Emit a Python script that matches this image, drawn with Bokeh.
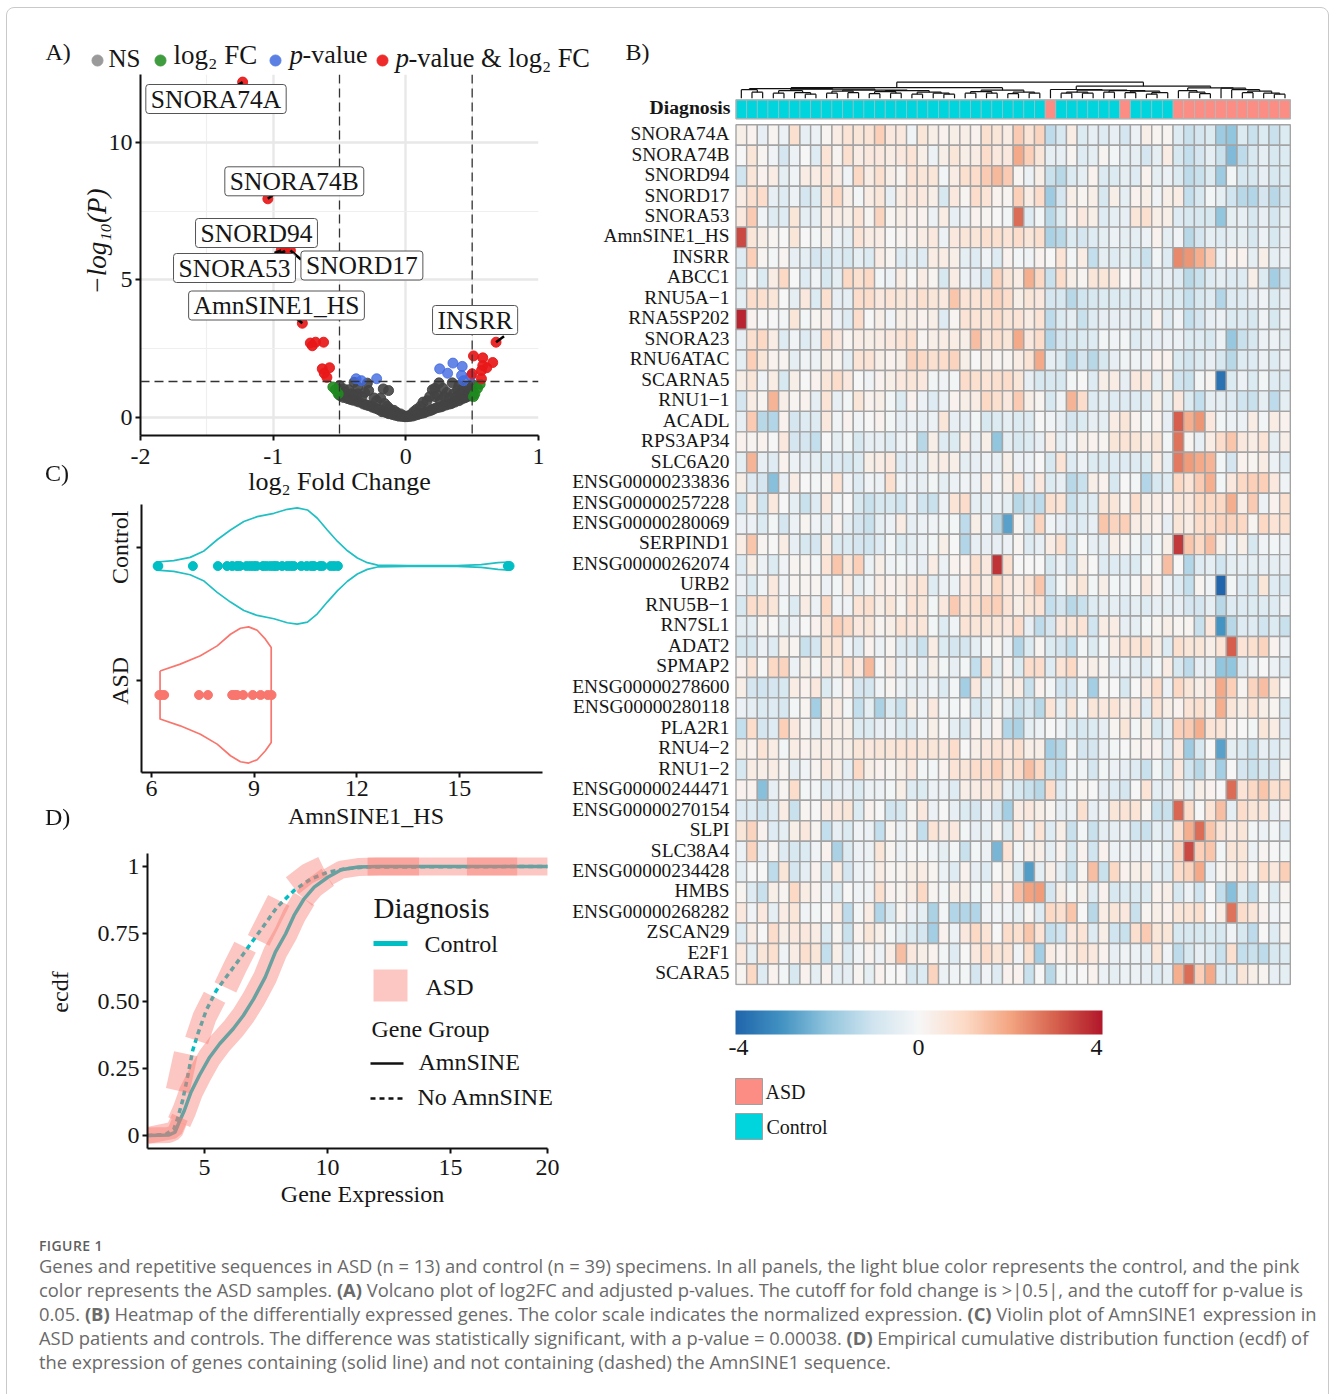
from bokeh.embed import file_html
from bokeh.resources import INLINE
from bokeh.layouts import column, row
from bokeh.models import (ColumnDataSource, ColorBar, Div, FixedTicker, Label, LinearColorMapper, Range1d, Spacer, Span)
from bokeh.palettes import interp_palette
from bokeh.plotting import figure
from bokeh.transform import transform

SERIF = "Liberation Serif"
INK = "#161616"
NB = "\u00a0"

# ---------- Panel A: volcano ----------
ns_x = [-.5,-.5,-.5,-.49,-.47,-.47,-.46,-.44,-.43,-.42,-.41,-.4,-.39,-.39,-.37,-.36,-.36,-.35,-.33,-.32,-.31,-.3,-.29,-.28,-.28,
        -.26,-.25,-.24,-.23,-.22,-.21,-.2,-.19,-.18,-.17,-.17,-.16,-.15,-.14,-.13,-.13,-.12,-.11,-.1,-.09,-.08,-.07,-.06,-.05,-.04,-.03,-.02,-.01,0,
        .01,.02,.03,.04,.05,.06,.07,.08,.09,.1,.11,.12,.13,.14,.15,.16,.17,.18,.19,.2,.2,.21,.22,.22,.23,.24,.25,.25,.26,.27,.28,.28,.29,.3,.31,.32,.33,
        .34,.35,.35,.36,.37,.38,.39,.4,.4,.41,.42,.43,.44,.45,.46,.47,.47,.48,.49,.5,.5,.5]
ns_y = [.8,1.0,1.15,.78,.72,1.03,.9,.68,1.0,.65,.85,.62,.8,1.27,.58,.85,1.1,.55,.75,.48,.9,.45,1.24,.42,.97,
        .4,.36,.7,.33,.6,.29,.28,.7,.2,.22,1.03,.5,.17,.4,.13,.97,.3,.12,.1,.25,.07,.18,.05,.04,.12,.03,.06,.02,.02,
        .02,.05,.03,.1,.04,.2,.07,.28,.1,.12,.4,.14,.55,.16,.2,.6,.22,.75,.25,.28,1.0,.3,.75,1.05,.34,.8,.36,1.25,.6,.38,.42,1.05,.75,.44,.9,.47,.7,
        .49,.52,1.25,.85,.55,.75,1.0,.6,1.15,.85,.66,1.0,.7,.72,1.1,.76,.95,.9,.78,.8,1.0,1.2]
fc_x = [-.55,-.53,-.51,.56,.54,.52,.51]
fc_y = [1.1,1.0,.85,1.2,1.05,.85,.75]
pv_x = [-.375,-.335,-.22,.255,.315,.355,.425,.42,.435,.49]
pv_y = [1.4,1.33,1.4,1.76,1.6,1.97,1.85,1.52,1.33,1.5]
both_x = [-1.23,-1.04,-.94,-.91,-.87,-.78,-.72,-.705,-.68,-.62,-.575,-.63,-.615,-.595,.51,.58,.655,.61,.58,.57,.5,.57,.68]
both_y = [12.2,7.95,6.07,6.05,6.07,3.42,2.7,2.6,2.73,2.73,1.8,1.76,1.6,1.45,2.23,2.16,1.99,1.8,1.88,1.7,1.58,1.4,2.73]
arrow_x0 = [-1.23,-1.04,-.94,-.91,-.87,-.78,.68]
arrow_y0 = [12.2,7.95,6.07,6.05,6.07,3.42,2.73]
arrow_x1 = [-1.285,-.985,-.99,-.96,-.79,-.83,.74]
arrow_y1 = [12.03,8.15,5.98,5.93,5.74,3.62,2.95]
gene_tags = ["SNORA74A","SNORA74B","SNORD94","SNORA53","SNORD17","AmnSINE1_HS","INSRR"]

# ---------- Panel C: violin ----------
ctrl_vals = [6.18,6.2,7.21,7.94,8.21,8.36,8.5,8.58,8.78,8.89,8.99,9.07,9.26,9.36,9.48,9.58,9.66,9.82,9.97,10.07,10.16,
             10.38,10.54,10.67,10.75,10.93,11.0,11.24,11.34,11.45,16.42,16.47]
asd_vals = [6.23,6.28,6.37,7.39,7.65,8.36,8.43,8.5,8.68,8.96,9.19,9.4,9.51]
ctrl_curve_x = [6.16,6.65,7.13,7.52,7.92,8.31,8.7,9.09,9.58,9.97,10.26,10.56,10.85,11.14,11.44,11.73,12.02,12.31,12.61,13.49,14.95,15.64,16.13,16.47]
ctrl_curve_w = [.03,.04,.065,.11,.197,.27,.333,.37,.395,.425,.435,.42,.358,.27,.184,.114,.06,.025,.007,.003,.003,.01,.025,.03]
asd_curve_x = [6.25,6.84,7.43,7.92,8.31,8.6,8.84,9.09,9.33,9.5]
asd_curve_w = [.18,.231,.294,.368,.455,.5,.51,.485,.418,.356]
ctrl_row, asd_row = 1.86, 0.894

# ---------- Panel D: ecdf ----------
amn_x = [2.68,3.56,3.8,3.97,4.18,4.45,4.79,5.21,5.62,6.17,6.58,7.0,7.47,7.88,8.3,8.64,9.05,9.46,10.01,10.56,11.25,12.07,18.94]
amn_y = [0,.002,.012,.05,.093,.161,.223,.291,.341,.397,.446,.508,.589,.682,.75,.818,.88,.923,.96,.988,.998,1,1]
noamn_x = [2.68,3.42,3.76,3.9,4.11,4.31,4.52,4.73,5.07,5.48,6.03,6.58,7.27,7.95,8.64,9.33,10.01,10.7,11.52,18.94]
noamn_y = [0,.004,.025,.062,.13,.217,.316,.378,.465,.539,.607,.675,.762,.849,.911,.954,.979,.991,.998,1]
asd_noamn_xs = [[2.68,3.76,4.0],[3.91,4.24],[4.68,5.0,5.41],[5.85,6.24,6.65],[7.2,7.61,8.02],[8.57,9.19,9.81],[11.63,13.72],[15.67,17.71]]
asd_noamn_ys = [[0,.02,.068],[.167,.304],[.353,.44,.514],[.551,.626,.7],[.725,.8,.874],[.929,.973,1.0],[1,1],[1,1]]
asd_noamn_w = [17,24,24,24,24,21,18,18]

# ---------- Panel B: heatmap (values x10) ----------
genes = ["SNORA74A","SNORA74B","SNORD94","SNORD17","SNORA53","AmnSINE1_HS","INSRR","ABCC1","RNU5A\u22121","RNA5SP202","SNORA23",
         "RNU6ATAC","SCARNA5","RNU1\u22121","ACADL","RPS3AP34","SLC6A20","ENSG00000233836","ENSG00000257228","ENSG00000280069",
         "SERPIND1","ENSG00000262074","URB2","RNU5B\u22121","RN7SL1","ADAT2","SPMAP2","ENSG00000278600","ENSG00000280118","PLA2R1",
         "RNU4\u22122","RNU1\u22122","ENSG00000244471","ENSG00000270154","SLPI","SLC38A4","ENSG00000234428","HMBS","ENSG00000268282",
         "ZSCAN29","E2F1","SCARA5"]
asd_columns = [29,36,41,42,43,44,45,46,47,48,49,50,51]
heat_rows = [
[3,2,-4,1,-3,8,-4,-3,1,4,7,6,7,12,5,5,-2,6,3,2,3,3,2,8,6,4,13,7,11,-13,-8,4,-7,-4,-6,-4,-9,-3,3,1,1,-6,-11,-9,-7,-18,-20,-7,-11,-7,-11,-7],
[0,6,1,-2,-9,-3,0,-6,7,1,8,4,5,5,4,5,7,3,-3,3,6,3,4,9,5,5,19,12,6,-5,-4,1,-6,-5,1,-1,-5,-5,-9,-5,4,-8,-12,-9,-5,-11,-22,-13,-8,-5,-8,-7],
[-10,6,2,4,-5,-2,4,4,7,4,-2,10,4,8,3,1,7,6,6,-1,4,8,9,13,16,13,1,-3,3,-11,-14,-7,-5,2,-7,-7,-5,-6,2,-5,-3,-7,-13,-11,-7,-18,-1,-8,-8,-4,-8,-7],
[4,8,9,-4,-6,-3,-9,-7,6,10,3,-1,4,6,-4,4,5,5,3,-8,5,1,9,7,2,1,12,4,9,-18,-9,3,1,3,-8,3,-5,2,3,-2,3,4,-12,-8,-1,-5,-10,-14,-15,-9,-14,-9],
[5,13,-2,-6,-6,6,-5,-5,4,4,3,7,1,11,1,3,2,2,-3,4,-4,-3,2,1,0,-1,28,-6,-1,-14,-7,2,5,3,-6,-5,-4,6,8,3,3,-6,-8,-8,-8,-20,-5,-4,-8,-4,-9,-5],
[33,6,3,1,0,6,0,-1,3,-3,-5,7,4,4,0,1,2,4,5,-3,5,6,6,8,8,7,9,6,8,-16,-14,-7,-9,-6,-5,-3,-5,-5,-3,2,-5,-2,-14,-9,-5,-6,-5,-5,-8,-3,-8,-4],
[-6,12,1,-1,1,-4,-5,-9,-8,-6,-8,-5,-7,4,1,-6,-5,-6,4,4,3,-5,-6,-2,-6,2,-1,-2,2,0,7,-1,4,-12,-5,-6,-5,-7,-11,-1,-6,24,22,18,13,-3,2,2,-5,3,-5,-3],
[-8,0,-7,4,10,0,-6,-2,-8,-5,10,8,10,-1,-3,4,0,4,1,-8,4,-3,-4,-9,11,6,4,18,10,-11,9,3,1,6,6,5,0,2,-6,-5,-4,-6,-14,-11,-6,-5,-6,-6,3,-7,-17,-10],
[-5,9,8,6,0,-5,5,-7,8,-4,-5,9,9,5,7,6,5,8,6,5,14,7,7,8,11,9,3,6,5,-9,-8,-14,-10,-8,-7,-7,-7,-6,-5,-5,-7,-7,-12,-8,-6,-15,-6,-6,-4,-2,-7,-4],
[38,2,0,0,-1,6,-1,1,4,-3,-6,9,0,3,-2,3,3,2,3,-6,1,7,7,6,9,6,7,4,7,-13,-7,-5,-11,-6,-4,-4,-4,-5,-6,2,-6,-2,-12,-9,-4,-3,-7,-6,-8,-2,-8,-3],
[-4,8,10,4,-6,-2,-6,-4,9,5,1,4,3,4,5,7,8,1,3,4,4,3,15,6,8,6,19,5,9,-15,-9,-8,-7,-6,-1,-2,-1,-6,-4,-4,-3,-3,-7,-6,-8,-3,-19,-11,-8,-3,-3,-5],
[-5,12,6,2,1,-5,-2,-3,3,1,-5,7,7,3,2,3,11,10,8,9,11,3,0,3,1,1,4,7,19,-5,-7,-14,-9,-14,-8,-4,-2,-2,-3,2,2,-7,-10,-7,-4,-8,-14,-6,-6,-3,-6,-3],
[3,6,-2,4,-8,3,0,2,6,9,5,0,-2,2,3,5,6,5,-1,-2,-1,9,8,7,8,9,6,-4,-8,-8,-8,-1,0,-6,3,4,-4,5,5,-5,3,-10,-11,-1,1,-37,-7,-3,-7,-1,-6,-6],
[-9,4,1,17,3,1,2,-5,7,-4,-1,6,2,3,-1,-7,2,-3,-6,-3,2,3,4,10,8,5,13,3,1,-8,-2,17,9,-6,-5,-6,-6,-6,-6,3,-5,5,-7,-12,-5,-5,-6,-10,-11,-5,-13,-5],
[-4,13,-14,-15,2,-9,-6,-6,5,-2,2,-2,0,2,-1,-4,-3,-4,-3,6,-4,-4,-1,-8,-7,-5,-7,-6,0,-2,-4,-9,-7,-4,-5,4,6,2,-1,2,-4,30,18,22,5,-1,-3,-3,4,-1,4,2],
[2,1,2,0,5,-9,-9,-12,0,-5,-1,-8,-4,-4,-6,-3,-1,-14,3,-6,-7,4,-4,3,-20,-5,-8,-7,-4,4,-5,-2,3,2,1,6,7,6,4,6,-1,27,1,-4,4,9,14,5,4,7,-5,3],
[-5,17,-4,-6,2,-3,-4,-5,-7,-6,-8,-7,3,4,5,-6,-4,-5,3,4,3,-5,-4,-3,-4,3,-3,-3,0,-8,7,-6,-3,-7,-7,-6,-6,-6,-7,4,-5,26,21,19,17,-1,-9,2,1,4,-3,-6],
[3,-6,-9,-21,-4,4,0,-1,1,7,-2,-6,-2,-3,8,-2,-3,-4,-1,-5,-3,-2,-3,4,-2,3,7,-4,5,-7,-4,-14,-11,3,2,-8,0,-1,-15,-8,-6,10,7,13,18,-1,5,10,12,12,5,-2],
[-10,4,-10,5,0,-5,-11,-6,5,-2,0,-8,-11,-8,-8,-10,-3,-10,-11,-3,7,9,-5,-5,-3,-5,-14,-11,-13,8,7,-11,-7,-6,6,6,1,9,3,4,2,6,5,10,10,10,18,4,13,-3,2,8],
[-3,-3,-7,-1,-9,-3,1,-2,-5,2,-5,-9,-11,-5,-3,4,-4,-3,-2,-1,-1,-13,3,-2,-14,-27,1,-8,11,-2,-4,-6,-6,-4,14,11,12,4,3,2,-4,6,4,9,9,11,11,10,1,10,7,8],
[4,14,1,0,4,-4,-8,-9,4,-7,-7,-9,-10,-6,-1,-7,-5,-3,-1,3,0,-15,-4,-4,-4,-3,1,-6,-4,4,8,-8,0,-4,-5,3,1,-1,-6,-1,3,35,14,10,15,3,-3,3,-8,-2,-1,-3],
[-6,3,-3,-7,-2,1,1,-1,7,14,6,12,-3,3,-2,-1,-2,-4,4,-3,2,2,8,5,36,8,0,0,0,-8,-3,-9,3,0,-6,-6,-6,-7,-1,1,15,0,-15,-6,-5,-10,-5,-4,-5,-4,-5,-4],
[-3,-7,-2,5,-2,1,1,1,-3,-1,4,-5,-2,4,2,3,5,7,-6,-3,-3,5,7,4,10,5,4,7,14,-9,-1,3,6,-1,3,-1,-3,0,5,2,-3,-6,-12,1,-2,-40,-1,-6,-8,6,-6,-8],
[-8,9,8,6,-1,-7,4,-3,10,-2,-2,7,8,3,6,1,7,6,-1,5,13,7,8,11,12,7,3,6,7,-12,-9,-14,-11,-6,-5,-5,-6,-5,-6,-4,-5,-4,-9,-9,-5,-14,-6,-6,-7,-6,-6,-3],
[-5,-5,1,0,-5,-3,0,2,6,12,10,5,6,1,3,7,5,6,-1,-6,-2,7,6,6,6,5,9,-4,-13,-9,5,6,7,-10,4,4,-4,-5,-1,1,3,1,1,-11,5,-30,-14,-6,-6,-10,-7,-11],
[-8,-8,-3,-6,3,1,-11,-9,6,7,-2,-6,2,-3,1,-6,-6,-11,4,-7,-9,-9,-5,-1,1,-3,-15,-7,1,-7,-9,-12,-1,-7,-1,4,7,7,8,3,-6,8,6,6,3,7,30,7,8,11,2,-3],
[2,7,0,10,11,-3,3,-1,5,3,9,5,16,0,4,-4,1,-4,3,-1,-4,-1,-12,8,-5,2,-7,9,9,-6,7,10,2,3,1,-4,-3,-5,-6,-1,4,-8,-13,-4,-5,-20,-20,-6,-3,0,-3,-6],
[3,-9,-10,-9,-8,4,2,5,-7,-2,2,-9,-9,-2,1,-3,-5,-4,-2,-7,-1,-17,5,-5,-3,3,4,-11,2,-1,-10,-9,-1,-17,0,0,-8,0,4,9,-3,10,6,3,5,19,12,1,11,15,6,0],
[-3,-5,-7,-6,-8,-1,1,-17,3,4,-1,-12,-5,-16,-7,-11,3,-2,5,-1,-1,0,-8,-6,1,-5,-11,-8,-14,7,-5,6,-1,6,5,7,3,5,-6,7,3,2,7,8,3,18,6,3,7,3,1,-7],
[-12,9,-9,-6,12,5,1,-5,4,3,3,-7,-7,-4,-3,-7,-6,-2,3,0,-5,-8,2,-3,2,-15,-16,-5,-3,0,-2,-7,-8,-7,-4,1,6,-1,3,-8,-5,12,13,18,7,7,2,0,-1,6,4,-6],
[3,2,7,4,-1,4,2,3,4,3,3,6,5,6,6,7,7,6,6,5,9,0,3,5,7,5,8,3,3,-17,-14,0,-9,-9,-3,-1,0,1,2,2,-6,5,-18,-8,0,-27,-5,-7,-11,-4,-6,-5],
[-8,4,3,4,1,-5,-2,1,5,3,-5,10,3,2,1,3,5,-1,-1,2,7,6,9,9,12,6,9,15,10,-11,-12,-1,-2,-9,-1,-3,-4,-6,-11,-1,-8,5,-10,-14,-5,-17,0,-9,-11,-8,-9,1],
[2,2,-21,-4,1,9,-1,-1,-6,-4,-4,-7,-3,-3,-1,3,-6,-7,-3,-3,-6,3,4,5,6,-5,-8,-11,-14,9,-6,-1,1,0,-4,-6,-9,0,7,-5,-4,3,-5,3,2,0,28,7,10,14,8,10],
[-6,-6,-10,-6,4,-11,1,0,4,5,6,-7,2,0,-10,-8,1,5,-3,0,-4,-7,-9,-3,-9,-17,4,5,3,1,-4,-3,8,-4,-2,6,7,7,1,-11,-11,29,9,0,7,15,-5,9,6,7,-4,2],
[6,11,2,-6,-5,3,5,1,-12,-4,-7,-2,-3,-12,1,-3,1,-12,7,4,5,-1,-4,-5,1,-7,5,-3,7,-6,3,-11,-1,-11,-5,-5,-3,-10,-11,-5,-6,8,18,28,14,7,4,6,-1,-3,-1,-6],
[-3,11,-4,1,-6,-8,-7,-2,2,-16,-7,-3,-3,6,1,-3,0,-1,-2,-5,-1,-11,-1,-3,-23,7,-1,3,3,-5,2,-8,2,-10,2,-3,-2,-3,-3,-1,-5,11,33,12,14,-1,6,6,-3,1,0,-1],
[-5,0,0,-13,6,-9,-5,2,-8,4,-9,-3,-2,4,1,1,3,4,1,-3,-6,2,-4,-6,0,3,-7,-28,-5,3,-5,-11,1,15,-11,10,2,3,4,-5,-6,9,11,19,-4,1,3,7,1,9,5,12],
[1,-6,-11,3,1,10,4,2,-3,-7,0,-2,-2,8,2,1,4,10,1,-1,3,3,-1,-1,5,2,15,20,21,-9,3,-1,3,-6,2,-8,-7,-7,-7,2,3,-8,-3,-10,0,-12,-21,-7,-13,0,-7,1],
[5,-2,5,-5,4,6,-2,-1,0,4,-13,-1,4,-15,-8,1,-3,-5,-16,-1,-15,-15,-15,-2,-2,-2,-5,1,-6,10,8,14,0,-14,4,6,5,-11,1,3,2,6,7,8,0,4,27,9,6,2,-2,0],
[-6,4,0,9,3,5,5,4,-7,1,-11,2,6,3,-1,-5,-7,-9,-17,2,-3,5,10,7,0,9,8,14,7,-12,-10,5,7,-6,3,-10,-11,8,13,6,6,-8,-8,-8,-7,-8,-2,-8,-13,0,-6,1],
[5,-5,6,8,-2,4,8,6,-12,3,-7,-2,2,-3,4,15,5,3,2,-1,-6,0,5,9,6,7,-2,8,-17,4,2,4,7,5,2,-4,-2,-3,-5,6,-2,-13,-8,-4,-6,-11,8,-12,-11,-13,-8,-7],
[1,10,-6,2,-1,-8,2,-5,2,-5,-5,1,-5,2,0,0,-8,-7,11,-3,-2,-1,-9,-2,-6,2,2,-11,0,-14,-1,-1,0,2,-3,-5,-3,-3,-4,-6,-5,18,28,12,19,-6,-7,6,3,1,-4,-5],
]
heat_ticks = ["-4","0","4"]

# ---------- Dendrogram merges: (height, left, right), leaves are column numbers ----------
dendro_left = (10.5,
    (9.5, (8.5, 0, (6, 1, 2)),
          (9.0, (7.5, (5, 3, 4), (5.5, 5, (4, 6, 7))),
                (8.0, (7, (5, 8, 9), (5.5, 10, 11)), (7.5, (6.5, (4.5, 12, 13), (5, 14, 15)), (6, (4, 16, 17), (5, 18, (4, 19, 20))))))),
    (8.0, (6.5, (5, 21, 22), (5, 23, 24)), (6, (4.5, 25, 26), (5, 27, 28))))
dendro_right = (12,
    (8.7, 29, (8, (6, (5, 30, 31), (5, 32, 33)), (7.5, (6, 34, 35), (7, (5.5, 36, 37), (5.5, (4, 38, 39), 40))))),
    (10.3, (7.5, 41, (6, 42, (4.5, 43, 44))), (10, 45, (8.5, 46, (7, (5.5, 47, 48), (5, 49, (4, 50, 51)))))))
dendro_root = (16, dendro_left, dendro_right)


def base(w, h, l, r, t, b, xr, yr):
    p = figure(width=w, height=h, x_range=Range1d(*xr), y_range=Range1d(*yr), toolbar_location=None,
               output_backend="svg", min_border_left=l, min_border_right=r, min_border_top=t, min_border_bottom=b,
               outline_line_color=None, background_fill_color="white", border_fill_color="white")
    p.grid.visible = False
    return p


def style_axis(ax, size=24, standoff=3):
    ax.axis_line_width = 2
    ax.axis_line_color = "#111111"
    ax.major_tick_in = 0
    ax.major_tick_out = 5
    ax.major_tick_line_width = 2
    ax.major_tick_line_color = "#111111"
    ax.minor_tick_line_color = None
    ax.major_label_text_font = SERIF
    ax.major_label_text_font_size = f"{size}px"
    ax.major_label_text_color = INK
    ax.major_label_standoff = standoff


def title_axis(ax, s, size, standoff, style="normal"):
    ax.axis_label = s
    ax.axis_label_text_font = SERIF
    ax.axis_label_text_font_size = f"{size}px"
    ax.axis_label_text_font_style = style
    ax.axis_label_text_color = INK
    ax.axis_label_standoff = standoff


def text(p, fx, fy, px, py, s, size, align="left", **kw):
    p.add_layout(Label(x=fx(px), y=fy(py), text=s, text_font=SERIF, text_font_size=f"{size}px", text_color=INK,
                       text_align=align, text_baseline="middle", **kw))


# ===== top strip: panel letters and volcano legend (page pixels) =====
strip_fx = lambda v: v
strip_fy = lambda v: v
strip = base(1314, 66, 0, 0, 0, 0, (8, 1322), (74, 8))
strip.axis.visible = False
legend_dot_x = [97, 160, 275, 382]
legend_dot_y = [60, 60, 60, 60]
legend_dot_c = ["#9a9a9a", "#3f9c3f", "#5b80e4", "#ee2a2a"]
strip.scatter(legend_dot_x, legend_dot_y, size=11, color=legend_dot_c)
text(strip, strip_fx, strip_fy, 45, 51, "A)", 24)
text(strip, strip_fx, strip_fy, 625, 51, "B)", 24)
text(strip, strip_fx, strip_fy, 108, 58, "NS", 25)
text(strip, strip_fx, strip_fy, 173, 54, "log\u2082 FC", 27)
text(strip, strip_fx, strip_fy, 289, 54, "p", 27, text_font_style="italic")
text(strip, strip_fx, strip_fy, 302, 54, "-value", 26)
text(strip, strip_fx, strip_fy, 395, 57, "p", 27, text_font_style="italic")
text(strip, strip_fx, strip_fy, 408, 57, "-value & log\u2082 FC", 26.4)

# ===== volcano =====
vx = lambda px: (px - 140) / 132.67 - 2
vy = lambda py: (416.7 - py) / 27.47
volcano = base(552, 429, 132, 22, 0, 68, (-2, 1), (vy(435), vy(74)))
style_axis(volcano.xaxis[0], standoff=8)
style_axis(volcano.yaxis[0])
title_axis(volcano.xaxis[0], "log\u2082 Fold Change", 26, 0)
title_axis(volcano.yaxis[0], NB * 4 + "\u2212log\u2081\u2080(P)", 27, -6, "italic")
volcano.xaxis.ticker = FixedTicker(ticks=[-2, -1, 0, 1], minor_ticks=[-1.5, -.5, .5])
volcano.yaxis.ticker = FixedTicker(ticks=[0, 5, 10], minor_ticks=[2.5, 7.5])
volcano.xaxis.major_label_overrides = {-2: "-2", -1: "-1", 0: "0", 1: "1"}
volcano.xgrid.ticker = FixedTicker(ticks=[-2, -1, 0, 1], minor_ticks=[-1.5, -.5, .5])
volcano.ygrid.ticker = FixedTicker(ticks=[0, 5, 10], minor_ticks=[2.5, 7.5])
volcano.grid.visible = True
volcano.grid.grid_line_color = "#e8e8e8"
volcano.grid.grid_line_width = 2.4
volcano.grid.minor_grid_line_color = "#efefef"
volcano.grid.minor_grid_line_width = 1.2
volcano.scatter(ns_x, ns_y, size=10, color="#444444", alpha=.9)
volcano.scatter(fc_x, fc_y, size=10, color="#1e8a1e", alpha=.9)
volcano.scatter(pv_x, pv_y, size=10, color="#4169e1", alpha=.8)
volcano.scatter(both_x, both_y, size=10, color="#e81818", alpha=.92)
volcano.segment(arrow_x0, arrow_y0, arrow_x1, arrow_y1, line_color="black", line_width=2.6)
for loc, dim in [(-.5, "height"), (.5, "height"), (1.3, "width")]:
    volcano.add_layout(Span(location=loc, dimension=dim, line_color="#333333", line_width=1.3, line_dash="9 5"))
tag_px = [215.5, 293.8, 256, 234, 361.4, 276, 474.6]
tag_py = [98.5, 180.8, 232.5, 267.5, 265, 305, 319.5]
for name, tx_, ty_ in zip(gene_tags, tag_px, tag_py):
    volcano.add_layout(Label(x=vx(tx_), y=vy(ty_), text=name, text_font=SERIF, text_font_size="25.5px", text_color=INK,
                             text_align="center", text_baseline="middle", background_fill_color="white",
                             border_line_color="#555555", border_line_width=1, padding=(5, 0), border_radius=3))

# ===== violin =====
cx = lambda px: 6 + (px - 151) / 34.2
cy = lambda py: 2 + (546 - py) / 134
violin = base(551, 341, 132, 18, 1, 72, (cx(141), cx(542)), (cy(772), cy(503)))
style_axis(violin.xaxis[0])
style_axis(violin.yaxis[0])
title_axis(violin.xaxis[0], NB * 8 + "AmnSINE1_HS", 24, 4)
violin.xaxis.ticker = FixedTicker(ticks=[6, 9, 12, 15])
violin.yaxis.ticker = FixedTicker(ticks=[1, 2])
violin.yaxis.major_label_overrides = {1: "ASD", 2: "Control"}
violin.yaxis.major_label_orientation = "vertical"
for xs, ws, mid, col in [(ctrl_curve_x, ctrl_curve_w, ctrl_row, "#1fbfc4"), (asd_curve_x, asd_curve_w, asd_row, "#f8766d")]:
    outline_x = xs + xs[::-1] + xs[:1]
    outline_y = [mid + w for w in ws] + [mid - w for w in ws[::-1]] + [mid + ws[0]]
    violin.line(outline_x, outline_y, line_color=col, line_width=1.7, line_join="round")
violin.scatter(ctrl_vals, [ctrl_row] * len(ctrl_vals), size=9, color="#00bfc4")
violin.scatter(asd_vals, [asd_row] * len(asd_vals), size=9, color="#f8766d")

# ===== ecdf =====
dx = lambda px: 5 + (px - 204) / 24.6
dy = lambda py: (1135 - py) / 269
x_end = 18.94
ecdf = base(545, 394, 132, 1, 9, 90, (dx(147), dx(559)), (dy(1148), dy(853)))
style_axis(ecdf.xaxis[0], standoff=6)
style_axis(ecdf.yaxis[0])
title_axis(ecdf.xaxis[0], NB * 3 + "Gene Expression", 24, 3)
title_axis(ecdf.yaxis[0], NB * 3 + "ecdf", 24, 22)
ecdf.xaxis.bounds = (dx(147), x_end)
ecdf.xaxis.ticker = FixedTicker(ticks=[5, 10, 15, x_end])
ecdf.xaxis.major_label_overrides = {5: "5", 10: "10", 15: "15", x_end: "20"}
ecdf.yaxis.ticker = FixedTicker(ticks=[0, .25, .5, .75, 1])
ecdf.yaxis.major_label_overrides = {0: "0", .25: "0.25", .5: "0.50", .75: "0.75", 1: "1"}
ecdf.line(amn_x, amn_y, line_color="#00bfc4", line_width=3.5)
ecdf.line(noamn_x, noamn_y, line_color="#00bfc4", line_width=3.5, line_dash="5 4")
for a, b, w in [(0, 4, 16), (3, 17, 24), (16, 19, 21), (18, 23, 18)]:
    ecdf.line(amn_x[a:b], amn_y[a:b], line_color="#f8766d", line_alpha=.42, line_width=w)
ecdf.multi_line(xs="xs", ys="ys", line_width="w", line_color="#f8766d", line_alpha=.42,
                source=ColumnDataSource(dict(xs=asd_noamn_xs, ys=asd_noamn_ys, w=asd_noamn_w)))
text(ecdf, dx, dy, 373, 907, "Diagnosis", 29)
text(ecdf, dx, dy, 424, 943, "Control", 24)
text(ecdf, dx, dy, 425, 986, "ASD", 24)
text(ecdf, dx, dy, 371, 1028, "Gene Group", 24)
text(ecdf, dx, dy, 418, 1061, "AmnSINE", 24)
text(ecdf, dx, dy, 417, 1096, "No AmnSINE", 24)
ecdf.line([dx(373), dx(407)], [dy(943), dy(943)], line_color="#00bfc4", line_width=5)
ecdf.quad(left=[dx(373)], right=[dx(407)], top=[dy(969)], bottom=[dy(1001)], fill_color="#f8766d", fill_alpha=.42, line_color=None)
ecdf.line([dx(370), dx(403)], [dy(1063), dy(1063)], line_color="#111111", line_width=2.5)
ecdf.line([dx(370), dx(403)], [dy(1098), dy(1098)], line_color="#111111", line_width=2.5, line_dash="5 4")

# ===== dendrogram and annotation bar =====
col_w = 10.66
tx = lambda px: (px - 735.5) / col_w
ty = lambda py: 97.7 - py
top = base(762, 48, 0, 0, 0, 0, (tx(560), tx(1322)), (ty(122), ty(74)))
top.axis.visible = False
seg_x0, seg_y0, seg_x1, seg_y1 = [], [], [], []


def walk(node):
    if isinstance(node, int):
        return node + .5, 0
    h, a, b = node
    xa, ha = walk(a)
    xb, hb = walk(b)
    seg_x0.extend([xa, xb, xa])
    seg_y0.extend([ha, hb, h])
    seg_x1.extend([xa, xb, xb])
    seg_y1.extend([h, h, h])
    return (xa + xb) / 2, h


walk(dendro_root)
top.segment(seg_x0, seg_y0, seg_x1, seg_y1, line_color="#111111", line_width=1.2)
bar_x = list(range(52))
bar_c = ["#fb8d84" if i in asd_columns else "#00d4dc" for i in bar_x]
top.quad(left=bar_x, right=[i + 1 for i in bar_x], top=[ty(99.3)] * 52, bottom=[ty(118.3)] * 52,
         fill_color=bar_c, line_color="#9fbfc2", line_width=.6)
top.quad(left=[0], right=[52], top=[ty(99.3)], bottom=[ty(118.3)], fill_color=None, line_color="#b0b0b0", line_width=1.3)
text(top, tx, ty, 730, 106, "Diagnosis", 19.7, "right", text_font_style="bold")

# ===== heatmap =====
stops = ["#2166ac", "#4393c3", "#92c5de", "#d1e5f0", "#f7f7f7", "#fddbc7", "#f4a582", "#d6604d", "#b2182b"]
mapper = LinearColorMapper(palette=interp_palette(stops, 256), low=-4, high=4)
cell_x, cell_y, cell_v = [], [], []
for r, vals in enumerate(heat_rows):
    for c, v in enumerate(vals):
        cell_x.append(c + .5)
        cell_y.append(r + .5)
        cell_v.append(v / 10)
heat_src = ColumnDataSource(dict(x=cell_x, y=cell_y, v=cell_v))
heat = base(762, 864, 174, 31, 1, 1, (tx(734), tx(1291)), (42.05, -.064))
heat.xaxis.visible = False
hy = heat.yaxis[0]
label_pos = [i + .43 for i in range(len(genes))]
hy.ticker = FixedTicker(ticks=label_pos)
hy.major_label_overrides = dict(zip(label_pos, genes))
hy.axis_line_color = None
hy.major_tick_line_color = None
hy.minor_tick_line_color = None
hy.major_tick_out = 0
hy.major_tick_in = 0
hy.major_label_standoff = 5
hy.major_label_text_font = SERIF
hy.major_label_text_font_size = "19.4px"
hy.major_label_text_color = INK
heat.rect("x", "y", width=1, height=1, source=heat_src, fill_color=transform("v", mapper),
          line_color="#a4a4a4", line_width=1.4)

# ===== colour scale and sample legend (page pixels) =====
leg_fx = lambda v: v
leg_fy = lambda v: v
legend = base(762, 252, 0, 0, 0, 0, (560, 1322), (1238, 986))
legend.axis.visible = False
cbar = ColorBar(color_mapper=mapper, orientation="horizontal", location=(175, 204), width=367, height=24, padding=0,
                ticker=FixedTicker(ticks=[]), major_tick_line_color=None, minor_tick_line_color=None, bar_line_color=None,
                border_line_color=None, background_fill_alpha=0, major_label_text_font_size="0px")
legend.add_layout(cbar)
for lx, tick in zip([738, 918, 1096], heat_ticks):
    text(legend, leg_fx, leg_fy, lx, 1047, tick, 24, "center")
legend.quad(left=[735, 735], right=[762, 762], top=[1078, 1113], bottom=[1104, 1139],
            fill_color=["#fb8d84", "#00d4dc"], line_color="#a0a0a0", line_width=1)
text(legend, leg_fx, leg_fy, 765, 1091, "ASD", 20)
text(legend, leg_fx, leg_fy, 766, 1126, "Control", 20)

# ===== caption, page frame and the two panel letters between plots =====
caption_lines = [
    "Genes and repetitive sequences in ASD (n = 13) and control (n = 39) specimens. In all panels, the light blue color represents the control, and the pink",
    "color represents the ASD samples. <b>(A)</b> Volcano plot of log2FC and adjusted p-values. The cutoff for fold change is &gt;|0.5|, and the cutoff for p-value is",
    "0.05. <b>(B)</b> Heatmap of the differentially expressed genes. The color scale indicates the normalized expression. <b>(C)</b> Violin plot of AmnSINE1 expression in",
    "ASD patients and controls. The difference was statistically significant, with a p-value = 0.00038. <b>(D)</b> Empirical cumulative distribution function (ecdf) of",
    "the expression of genes containing (solid line) and not containing (dashed) the AmnSINE1 sequence.",
]
frame_css = ("position:fixed;left:6px;top:7px;width:1323px;height:1400px;border:1px solid #c9c9c9;"
             "border-radius:8px;pointer-events:none;box-sizing:border-box;")
letter_css = f"position:fixed;left:45px;font:24px/28px '{SERIF}';color:{INK};"
caption = Div(width=1314, height=148, margin=(0, 0, 0, 0), text=(
    f'<div style="{frame_css}"></div>'
    f'<div style="{letter_css}top:459px;">C)</div><div style="{letter_css}top:803px;">D)</div>'
    '<div style="padding-left:31px;font-family:\'Open Sans\';color:#6a6a6a;white-space:nowrap;">'
    '<div style="font-size:14px;line-height:16px;font-weight:600;letter-spacing:.4px;color:#5f5f5f;">FIGURE 1</div>'
    '<div style="font-size:18.35px;line-height:24px;">' + "<br>".join(caption_lines) + "</div></div>"))

left_col = column(volcano,
                  row(Spacer(width=1, height=341), violin, spacing=0),
                  row(Spacer(width=7, height=394), ecdf, spacing=0), spacing=0)
right_col = column(row(top, spacing=0), heat, row(legend, spacing=0), spacing=0)
page = column(strip, row(left_col, right_col, spacing=0), caption, spacing=0, margin=(8, 0, 0, 8))
open("out.html", "w").write(file_html(page, INLINE))
